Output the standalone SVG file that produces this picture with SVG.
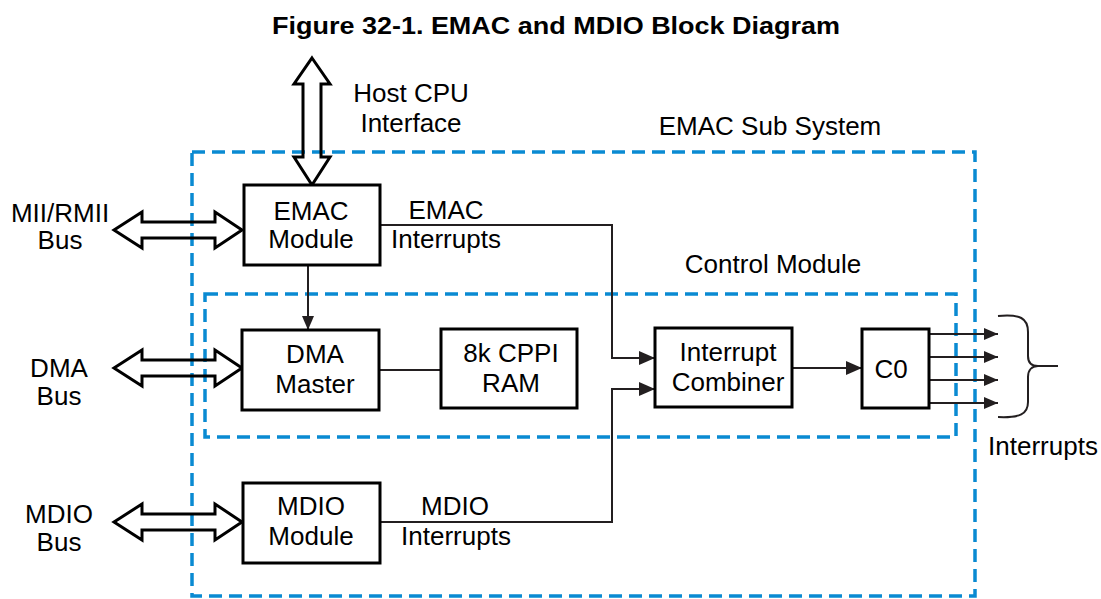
<svg xmlns="http://www.w3.org/2000/svg" width="1101" height="599" viewBox="0 0 1101 599">
<defs>
<marker id="ah" viewBox="0 0 16 14" refX="16" refY="7" markerWidth="16" markerHeight="14" markerUnits="userSpaceOnUse" orient="auto">
<path d="M0,0 L16,7 L0,14 z" fill="#231f20"/>
</marker>
<marker id="ahs" viewBox="0 0 14 12" refX="14" refY="6" markerWidth="14" markerHeight="12" markerUnits="userSpaceOnUse" orient="auto">
<path d="M0,0 L14,6 L0,12 z" fill="#231f20"/>
</marker>
</defs>
<style>
text{font-family:"Liberation Sans",Arial,sans-serif;font-size:26px;fill:#000;text-anchor:middle}
.title{font-weight:bold;font-size:23px;text-anchor:start}
.box{fill:#fff;stroke:#000;stroke-width:3}
.dash{fill:none;stroke:#0a8ad2;stroke-width:3.5;stroke-dasharray:13 7}
.wire{fill:none;stroke:#231f20;stroke-width:2}
.hollow{fill:none;stroke:#000;stroke-width:3;stroke-linejoin:miter}
</style>
<rect width="1101" height="599" fill="#fff"/>
<text class="title" x="272" y="34" textLength="568" lengthAdjust="spacingAndGlyphs">Figure 32-1. EMAC and MDIO Block Diagram</text>

<g id="emac-subsystem">
<rect class="dash" x="192" y="152" width="783" height="444"/>
<text x="770" y="135">EMAC Sub System</text>
</g>
<g id="control-module">
<rect class="dash" x="205" y="294" width="751" height="143"/>
<text x="773" y="273">Control Module</text>
</g>

<g id="connectors">
<polygon class="hollow" points="312,58 330,84 321,84 321,157 330,157 312,185 294,157 303,157 303,84 294,84"/>
<polygon class="hollow" points="114,230 142,212 142,222 215,222 215,212 242,230 215,248 215,238 142,238 142,248"/>
<polygon class="hollow" points="114,368 142,350 142,360 215,360 215,350 242,368 215,386 215,376 142,376 142,386"/>
<polygon class="hollow" points="114,522 142,504 142,514 215,514 215,504 242,522 215,540 215,530 142,530 142,540"/>
<path class="wire" d="M308,266 L308,330" marker-end="url(#ahs)"/>
<path class="wire" d="M379,370 L441,370"/>
<path class="wire" d="M380,225 L612,225 L612,358 L655,358" marker-end="url(#ah)"/>
<path class="wire" d="M380,522 L612,522 L612,389 L655,389" marker-end="url(#ah)"/>
<path class="wire" d="M792,368 L862,368" marker-end="url(#ah)"/>
<path class="wire" d="M929,334 L998,334" marker-end="url(#ahs)"/>
<path class="wire" d="M929,357 L998,357" marker-end="url(#ahs)"/>
<path class="wire" d="M929,380 L998,380" marker-end="url(#ahs)"/>
<path class="wire" d="M929,403 L998,403" marker-end="url(#ahs)"/>
<path class="wire" d="M998,316 C1020,314 1028,318 1028,332 L1028,356 C1028,363 1032,366 1038,366 L1058,366 M1038,366 C1032,366 1028,370 1028,377 L1028,402 C1028,414 1020,418 998,417"/>
</g>

<g id="host-cpu-label">
<text x="411" y="102">Host CPU</text>
<text x="411" y="132">Interface</text>
</g>
<g id="mii-bus-label">
<text x="60" y="222">MII/RMII</text>
<text x="60" y="249">Bus</text>
</g>
<g id="dma-bus-label">
<text x="59" y="377">DMA</text>
<text x="59" y="405">Bus</text>
</g>
<g id="mdio-bus-label">
<text x="59" y="523">MDIO</text>
<text x="59" y="551">Bus</text>
</g>

<g id="emac-module">
<rect class="box" x="244" y="185" width="136" height="80"/>
<text x="311" y="220">EMAC</text>
<text x="311" y="248">Module</text>
</g>
<g id="emac-int-label">
<text x="446" y="219">EMAC</text>
<text x="446" y="248">Interrupts</text>
</g>
<g id="dma-master">
<rect class="box" x="242" y="330" width="137" height="80"/>
<text x="315" y="363">DMA</text>
<text x="315" y="393">Master</text>
</g>
<g id="cppi-ram">
<rect class="box" x="441" y="329" width="136" height="79"/>
<text x="511" y="362">8k CPPI</text>
<text x="511" y="392">RAM</text>
</g>
<g id="interrupt-combiner">
<rect class="box" x="655" y="328" width="137" height="79"/>
<text x="728" y="361">Interrupt</text>
<text x="728" y="391">Combiner</text>
</g>
<g id="c0">
<rect class="box" x="862" y="329" width="67" height="79"/>
<text x="891" y="378">C0</text>
</g>
<g id="mdio-module">
<rect class="box" x="243" y="483" width="137" height="80"/>
<text x="311" y="515">MDIO</text>
<text x="311" y="545">Module</text>
</g>
<g id="mdio-int-label">
<text x="455" y="515">MDIO</text>
<text x="456" y="545">Interrupts</text>
</g>
<g id="interrupts-label">
<text x="1043" y="455">Interrupts</text>
</g>
</svg>
